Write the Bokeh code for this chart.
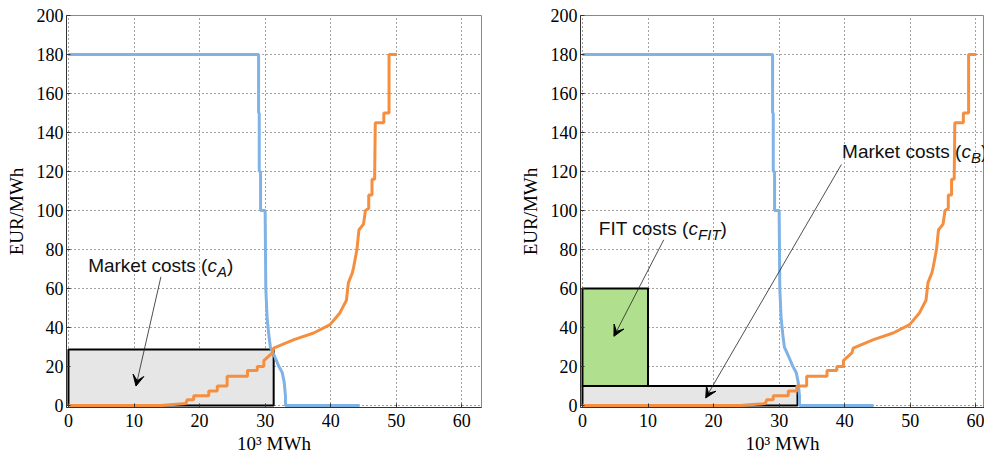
from bokeh.plotting import figure
from bokeh.layouts import row
from bokeh.models import Range1d, Label, Arrow, VeeHead, FixedTicker
from bokeh.embed import file_html
from bokeh.resources import INLINE

# ---------------- data ----------------
x_ticks = [0, 10, 20, 30, 40, 50, 60]
y_ticks = [0, 20, 40, 60, 80, 100, 120, 140, 160, 180, 200]

# demand curve (same in both panels), 10^3 MWh vs EUR/MWh
demand_q = [0, 29.0, 29.0, 29.1, 29.1, 29.3, 29.3, 30.0, 30.1, 30.3, 30.6, 30.8,
            31.2, 31.6, 32.1, 32.6, 32.9, 33.1, 33.1, 44.4]
demand_p = [180, 180, 150, 150, 120, 120, 100, 100, 60, 45, 35, 30,
            27, 24, 20, 17, 12, 5, 0, 0]

# supply curve, case A (no FIT)
supply_a_q = [0, 14.1, 16.0, 17.9, 18.1, 19.1, 19.1, 21.4, 21.4, 22.7, 22.7, 24.2,
              24.2, 27.3, 27.3, 28.8, 28.8, 29.8, 29.8, 31.1, 31.3, 34.4, 37.4,
              39.9, 41.4, 42.4, 42.7, 43.3, 43.5, 44.0, 44.3, 45.0, 45.3, 45.8,
              45.8, 46.3, 46.3, 46.7, 46.8, 48.1, 48.1, 48.9, 48.9, 50.1]
supply_a_p = [0, 0, 0.5, 1, 3, 3, 5, 5, 7.5, 7.5, 10, 10,
              15, 15, 18, 18, 20, 20, 23, 27, 29.5, 33.8, 37.2,
              41.5, 47.5, 54, 63, 68, 71, 80, 90, 93, 100, 101,
              108, 108, 116, 116, 145, 145, 150, 150, 180, 180]

# supply curve, case B (with FIT volume)
supply_b_q = [0, 24.1, 26.0, 27.9, 28.1, 29.1, 29.1, 31.4, 31.4, 32.7, 32.7, 34.2,
              34.2, 37.3, 37.3, 38.8, 38.8, 39.8, 39.8, 41.1, 41.3, 44.4, 47.4,
              49.9, 51.4, 52.4, 52.7, 53.3, 53.5, 54.0, 54.3, 55.0, 55.3, 55.8,
              55.8, 56.3, 56.3, 56.7, 56.8, 58.1, 58.1, 58.9, 58.9, 60.1]
supply_b_p = supply_a_p

# cost rectangles
market_a = dict(left=0, right=31.3, bottom=0, top=28.7)
market_b = dict(left=0, right=32.8, bottom=0, top=10)
fit_b = dict(left=0, right=10, bottom=10, top=60)

BLUE = "#7fb3e6"
ORANGE = "#f58f3f"
GRAY_FILL = "#e6e6e6"
GREEN_FILL = "#b0e08e"

SERIF = "Liberation Serif"
SANS = "Liberation Sans"

ARIAL_W = {"M": 833, "a": 556, "r": 333, "k": 500, "e": 556, "t": 278, " ": 278,
           "c": 500, "o": 556, "s": 500, "(": 333, ")": 333, "F": 611, "I": 278,
           "T": 611, "A": 667, "B": 667}

PX_PER_UNIT = 6.556  # horizontal scale shared by both panels
X0 = -0.3


def text_w(s, size):
    return sum(ARIAL_W.get(ch, 556) for ch in s) * size / 1000.0


def make_fig(width, b_left, b_right, x_end):
    p = figure(width=width, height=456, x_range=Range1d(X0, x_end),
               y_range=Range1d(-1, 200), output_backend="svg",
               toolbar_location=None, min_border_left=b_left,
               min_border_right=b_right, min_border_top=15,
               min_border_bottom=48)
    p.xaxis.ticker = FixedTicker(ticks=x_ticks)
    p.yaxis.ticker = FixedTicker(ticks=y_ticks)
    for ax in (p.xaxis[0], p.yaxis[0]):
        ax.major_label_text_font = SERIF
        ax.major_label_text_font_size = "18px"
        ax.major_label_text_color = "#000000"
        ax.axis_label_text_font = SERIF
        ax.axis_label_text_font_size = "19px"
        ax.axis_label_text_font_style = "normal"
        ax.axis_label_text_color = "#000000"
        ax.axis_line_color = "#333333"
        ax.major_tick_line_color = "#333333"
        ax.major_tick_in = 4
        ax.major_tick_out = 0
        ax.minor_tick_line_color = None
    p.xaxis.major_label_standoff = 6
    p.yaxis.major_label_standoff = 3
    p.xaxis.axis_label = "10³ MWh"
    p.xaxis.axis_label_standoff = 3
    p.yaxis.axis_label = "EUR/MWh"
    p.yaxis.axis_label_standoff = 7
    p.grid.grid_line_color = "#444444"
    p.grid.grid_line_dash = "1 3"
    p.grid.grid_line_width = 1
    p.outline_line_color = "#888888"
    p.outline_line_width = 1
    p.background_fill_color = "white"
    p.border_fill_color = "white"
    return p


def cost_label(p, x, y, main, sub, size=19):
    sub_size = 15
    w_main = text_w(main, size)
    w_c = text_w("c", size)
    w_sub = text_w(sub, sub_size)
    common = dict(x=x, y=y, text_font=SANS, text_color="#111111",
                  text_baseline="alphabetic", text_align="left")
    p.add_layout(Label(text=main, text_font_size=f"{size}px", **common))
    p.add_layout(Label(text="c", x_offset=w_main, text_font_size=f"{size}px",
                       text_font_style="italic", **common))
    p.add_layout(Label(text=sub, x_offset=w_main + w_c, y_offset=-6,
                       text_font_size=f"{sub_size}px", text_font_style="italic",
                       **common))
    p.add_layout(Label(text=")", x_offset=w_main + w_c + w_sub,
                       text_font_size=f"{size}px", **common))


def arrow(p, x0, y0, x1, y1):
    p.add_layout(Arrow(x_start=x0, y_start=y0, x_end=x1, y_end=y1,
                       line_color="#222222", line_width=0.8,
                       end=VeeHead(size=11, fill_color="black",
                                   line_color="black", line_width=1)))


# ---------------- left panel ----------------
p1 = make_fig(488, 66, 7, 415 / PX_PER_UNIT + X0)
p1.quad(left=[market_a["left"]], right=[market_a["right"]],
        bottom=[market_a["bottom"]], top=[market_a["top"]],
        fill_color=GRAY_FILL, line_color="black", line_width=2)
p1.line(demand_q, demand_p, line_color=BLUE, line_width=3)
p1.line(supply_a_q, supply_a_p, line_color=ORANGE, line_width=3)
cost_label(p1, 3.0, 72, "Market costs (", "A")
arrow(p1, 14.1, 66, 10.3, 10)

# ---------------- right panel ----------------
p2 = make_fig(496, 92, 0, 404 / PX_PER_UNIT + X0)
p2.quad(left=[market_b["left"]], right=[market_b["right"]],
        bottom=[market_b["bottom"]], top=[market_b["top"]],
        fill_color=GRAY_FILL, line_color="black", line_width=2)
p2.quad(left=[fit_b["left"]], right=[fit_b["right"]],
        bottom=[fit_b["bottom"]], top=[fit_b["top"]],
        fill_color=GREEN_FILL, line_color="black", line_width=2)
p2.line(demand_q, demand_p, line_color=BLUE, line_width=3)
p2.line(supply_b_q, supply_b_p, line_color=ORANGE, line_width=3)
cost_label(p2, 2.5, 91, "FIT costs (", "FIT")
arrow(p2, 12.4, 85, 4.8, 35.5)
cost_label(p2, 39.6, 130.4, "Market costs (", "B")
arrow(p2, 39.5, 123.6, 18.8, 3.9)

layout = row(p1, p2, spacing=0)
open("out.html", "w").write(file_html(layout, INLINE))
